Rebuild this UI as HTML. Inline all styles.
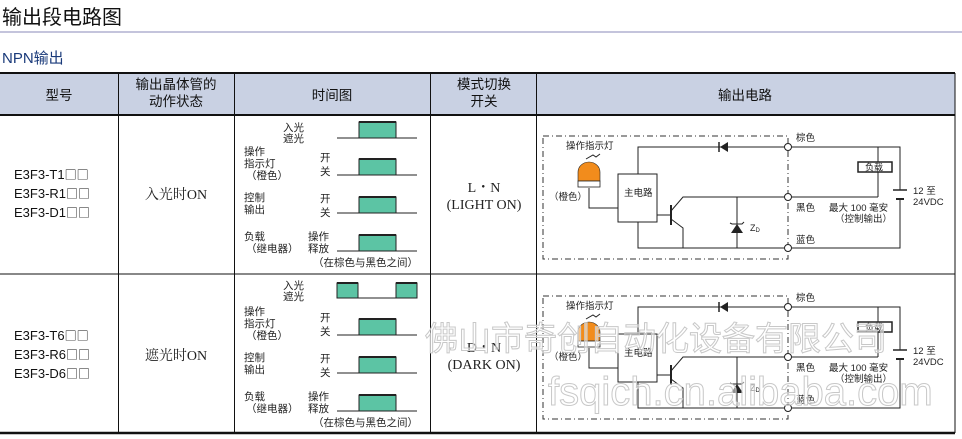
<!DOCTYPE html>
<html><head><meta charset="utf-8"><style>
html,body{margin:0;padding:0;background:#fff;}
svg{display:block;}
text{font-family:"Liberation Sans","Noto Sans CJK SC",sans-serif;}
.s{font-family:"Liberation Serif","Noto Serif CJK SC",serif;}
.b{font-family:"Noto Sans CJK SC",sans-serif;font-size:12px;}
</style></head><body>
<svg width="962" height="439" viewBox="0 0 962 439" xmlns="http://www.w3.org/2000/svg">
<defs>
<g id="timing1">
  <g font-size="10.5" fill="#222">
    <text x="244" y="12">操作</text><text x="244" y="24">指示灯</text><text x="246" y="36">（橙色）</text>
    <text x="320" y="18">开</text><text x="320" y="32">关</text>
    <text x="244" y="58">控制</text><text x="244" y="70">输出</text>
    <text x="320" y="59">开</text><text x="320" y="73">关</text>
    <text x="244" y="97">负载</text><text x="246" y="109">（继电器）</text>
    <text x="308" y="97">操作</text><text x="308" y="109">释放</text>
    <text x="313" y="123">（在棕色与黑色之间）</text>
  </g>
  <g stroke="#222" stroke-width="1">
    <line x1="337" y1="32" x2="417" y2="32"/><line x1="337" y1="70" x2="417" y2="70"/><line x1="337" y1="108" x2="417" y2="108"/>
  </g>
  <g fill="#5cc4a4" stroke="#222" stroke-width="1">
    <rect x="359" y="16" width="37" height="16"/><rect x="359" y="54" width="37" height="16"/><rect x="359" y="92" width="37" height="16"/>
  </g>
  <g stroke="#222" stroke-width="2"><line x1="359" y1="16" x2="396" y2="16"/><line x1="359" y1="54" x2="396" y2="54"/><line x1="359" y1="92" x2="396" y2="92"/></g>
</g>
<g id="circ">
  <rect x="543" y="136" width="245" height="123" fill="none" stroke="#333" stroke-dasharray="6,3,1,3"/>
  <g stroke="#222" fill="none" stroke-width="1">
    <polyline points="638,174 638,147 784,147"/>
    <polyline points="784,147 900,147 900,190"/>
    <line x1="878" y1="147" x2="878" y2="162"/><line x1="878" y1="172" x2="878" y2="197"/>
    <line x1="784" y1="197" x2="878" y2="197"/>
    <polyline points="900,200 900,248 792,248"/>
    <line x1="893" y1="190" x2="907" y2="190" stroke-width="1.5"/><line x1="896" y1="199" x2="904" y2="199" stroke-width="2"/>
    <polyline points="638,222 638,248 784,248"/>
    <polyline points="589,188 589,208 618,208"/>
    <line x1="657" y1="215" x2="671" y2="215"/>
    <line x1="671" y1="205" x2="671" y2="225" stroke-width="2"/>
    <polyline points="671,211 683,197 784,197"/>
    <polyline points="671,219 683,228 683,248"/>
    <line x1="737" y1="197" x2="737" y2="248"/>
    <rect x="618" y="174" width="39" height="48" fill="#fff"/>
    <rect x="858" y="162" width="34" height="10" fill="#fff" stroke-width="1.5"/>
    <circle cx="788" cy="147" r="3.5" fill="#fff"/><circle cx="788" cy="197" r="3.5" fill="#fff"/><circle cx="788" cy="248" r="3.5" fill="#fff"/>
    <polyline points="586,159 593,155 596,157 600,154"/>
  </g>
  <polygon points="720,147 728,142 728,152" fill="#222"/><line x1="719" y1="142" x2="719" y2="152" stroke="#222" stroke-width="1.5"/>
  <polygon points="737,224 731,233 743,233" fill="#222"/><polyline points="730,223 732,224 742,224 744,222" fill="none" stroke="#222"/>
  <path d="M578,181 L578,172 A11,10 0 0 1 600,172 L600,181 Z" fill="#f28c1c" stroke="#222" stroke-width="0.6"/>
  <rect x="578" y="181" width="22" height="6" fill="#fff" stroke="#222" stroke-width="0.8"/>
  <g font-size="9.5" fill="#222">
    <text x="566" y="149">操作指示灯</text>
    <text x="549" y="200">（橙色）</text>
    <text x="624" y="196">主电路</text>
    <text x="750" y="231" font-size="9">Z<tspan font-size="6" dy="1">D</tspan></text>
    <text x="796" y="141">棕色</text>
    <text x="796" y="211">黑色</text>
    <text x="796" y="243">蓝色</text>
    <text x="865" y="170.5" font-size="9">负载</text>
    <text x="829" y="211">最大 100 毫安</text>
    <text x="835" y="222">（控制输出）</text>
    <text x="913" y="194">12 至</text>
    <text x="913" y="205">24VDC</text>
  </g>
</g>
</defs>

<text x="2" y="24" font-size="20" fill="#111">输出段电路图</text>
<line x1="0" y1="32" x2="962" y2="32" stroke="#8a88b8" stroke-width="1"/>
<text x="2" y="63" font-size="15" fill="#1a3a7a">NPN输出</text>

<rect x="0" y="73" width="955" height="42" fill="#c9d1e3"/>
<line x1="0" y1="73" x2="955" y2="73" stroke="#111" stroke-width="2"/>
<line x1="0" y1="115" x2="955" y2="115" stroke="#111" stroke-width="2"/>
<line x1="0" y1="274" x2="955" y2="274" stroke="#111" stroke-width="1"/>
<line x1="0" y1="433" x2="955" y2="433" stroke="#111" stroke-width="2.5"/>
<g stroke="#111" stroke-width="1">
  <line x1="118.5" y1="73" x2="118.5" y2="433"/><line x1="234.5" y1="73" x2="234.5" y2="433"/>
  <line x1="430.5" y1="73" x2="430.5" y2="433"/><line x1="536.5" y1="73" x2="536.5" y2="433"/>
  <line x1="955" y1="73" x2="955" y2="433"/>
</g>
<g font-size="13.5" fill="#111" text-anchor="middle">
  <text x="59" y="100">型号</text>
  <text x="176" y="89">输出晶体管的</text><text x="176" y="106">动作状态</text>
  <text x="332" y="100">时间图</text>
  <text x="484" y="89">模式切换</text><text x="484" y="106">开关</text>
  <text x="745" y="100">输出电路</text>
</g>

<g font-size="13" fill="#111">
  <text x="14" y="179">E3F3-T1<tspan class="b">□□</tspan></text><text x="14" y="198">E3F3-R1<tspan class="b">□□</tspan></text><text x="14" y="217">E3F3-D1<tspan class="b">□□</tspan></text>
  <text x="14" y="340">E3F3-T6<tspan class="b">□□</tspan></text><text x="14" y="359">E3F3-R6<tspan class="b">□□</tspan></text><text x="14" y="378">E3F3-D6<tspan class="b">□□</tspan></text>
</g>
<g font-size="14" fill="#222" text-anchor="middle">
  <text class="s" x="176" y="199">入光时ON</text>
  <text class="s" x="176" y="360">遮光时ON</text>
  <text class="s" x="484" y="192">L・N</text><text class="s" x="484" y="209">(LIGHT ON)</text>
  <text class="s" x="484" y="352">D・N</text><text class="s" x="484" y="369">(DARK ON)</text>
</g>

<g font-size="10.5" fill="#222"><text x="283" y="131">入光</text><text x="283" y="142">遮光</text></g>
<line x1="337" y1="138" x2="417" y2="138" stroke="#222"/>
<rect x="359" y="122" width="37" height="16" fill="#5cc4a4" stroke="#222"/><line x1="359" y1="122" x2="396" y2="122" stroke="#222" stroke-width="2"/>
<use href="#timing1" transform="translate(0,143)"/>
<g font-size="10.5" fill="#222"><text x="283" y="289">入光</text><text x="283" y="300">遮光</text></g>
<line x1="337" y1="298" x2="417" y2="298" stroke="#222"/>
<rect x="337" y="283" width="21" height="15" fill="#5cc4a4" stroke="#222"/><line x1="337" y1="283" x2="358" y2="283" stroke="#222" stroke-width="2"/>
<rect x="396" y="283" width="21" height="15" fill="#5cc4a4" stroke="#222"/><line x1="396" y1="283" x2="417" y2="283" stroke="#222" stroke-width="2"/>
<use href="#timing1" transform="translate(0,303)"/>

<use href="#circ"/>
<use href="#circ" transform="translate(0,160)"/>

<g font-size="33" fill="#fff" fill-opacity="0.5" stroke="#c8c8c8" stroke-width="1">
  <text x="425" y="350">佛山市奇创自动化设备有限公司</text>
  <text x="548" y="405" font-size="40">fsqich.cn.alibaba.com</text>
</g>
</svg>
</body></html>
